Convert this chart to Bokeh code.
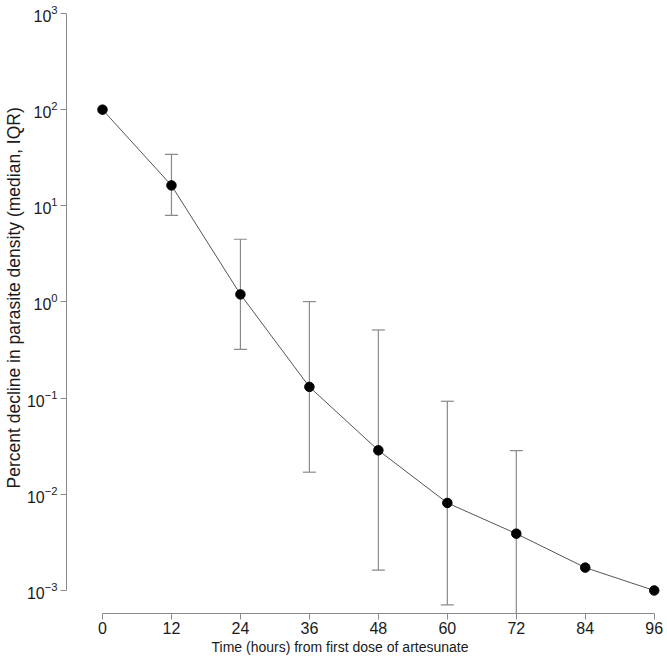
from bokeh.plotting import figure
from bokeh.models import FixedTicker, Range1d, Title
from bokeh.embed import file_html
from bokeh.resources import INLINE

# Data
hours = [0, 12, 24, 36, 48, 60, 72, 84, 96]
median = [100, 16.3, 1.20, 0.131, 0.0287, 0.00814, 0.0039, 0.00173, 0.001]
err_hours = [12, 24, 36, 48, 60, 72]
iqr_low = [7.96, 0.322, 0.0170, 0.00163, 0.00071, 0.0001]
iqr_high = [34.3, 4.49, 1.01, 0.512, 0.0929, 0.0285]
x_ticks = [0, 12, 24, 36, 48, 60, 72, 84, 96]
y_ticks = [1e-3, 1e-2, 1e-1, 1e0, 1e1, 1e2, 1e3]

FONT = "Liberation Sans"
AXIS_GRAY = "#8a8a8a"
TEXT = "#1a1a1a"

p = figure(width=667, height=658, y_axis_type="log",
           x_range=Range1d(-6.264, 97.09),
           y_range=Range1d(10 ** -3.239, 10 ** 3.031),
           output_backend="svg", toolbar_location=None,
           min_border_left=66, min_border_right=7,
           min_border_top=10, min_border_bottom=45)
p.outline_line_color = None
p.xgrid.visible = False
p.ygrid.visible = False

# error bars (IQR)
p.segment(x0=err_hours, x1=err_hours, y0=iqr_low, y1=iqr_high,
          line_color=AXIS_GRAY, line_width=1.2)
p.dash(x=err_hours, y=iqr_high, size=13, line_color=AXIS_GRAY, line_width=1.2)
p.dash(x=err_hours, y=iqr_low, size=13, line_color=AXIS_GRAY, line_width=1.2)

# median line + points
p.line(hours, median, line_color="#555555", line_width=1)
p.scatter(hours, median, size=9.5, fill_color="black", line_color="black")

# axes
for ax in (p.xaxis[0], p.yaxis[0]):
    ax.axis_line_color = AXIS_GRAY
    ax.major_tick_line_color = AXIS_GRAY
    ax.minor_tick_line_color = None
    ax.major_tick_out = 6
    ax.major_tick_in = 0
    ax.major_label_text_font = FONT
    ax.major_label_text_color = TEXT

p.xaxis[0].ticker = FixedTicker(ticks=x_ticks)
p.xaxis[0].bounds = (0, 96)
p.xaxis[0].major_label_standoff = 2
p.xaxis[0].major_label_text_font_size = "16px"
p.yaxis[0].ticker = FixedTicker(ticks=y_ticks, minor_ticks=[])
p.yaxis[0].bounds = (1e-3, 1e3)
p.yaxis[0].major_label_standoff = 3
p.yaxis[0].major_label_text_font_size = "16px"

p.add_layout(Title(text="Percent decline in parasite density (median, IQR)",
                   align="left", offset=125, standoff=0,
                   text_font=FONT, text_font_size="17.5px", text_font_style="normal",
                   text_color=TEXT), "left")
p.add_layout(Title(text="Time (hours) from first dose of artesunate",
                   align="left", offset=145, standoff=0,
                   text_font=FONT, text_font_size="14px", text_font_style="normal",
                   text_color=TEXT), "below")

open("out.html", "w").write(file_html(p, INLINE))
